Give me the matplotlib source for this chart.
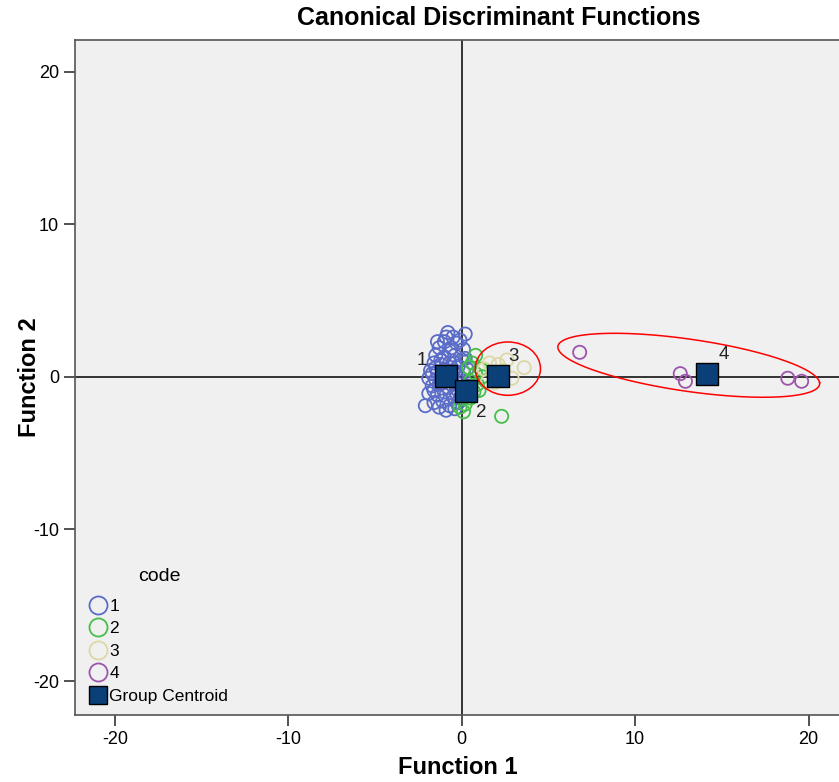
import matplotlib
matplotlib.use("Agg")
import matplotlib.pyplot as plt
from matplotlib.patches import Ellipse
from matplotlib.lines import Line2D
import numpy as np

plt.rcParams['font.family'] = ['Liberation Sans', 'DejaVu Sans']
plt.rcParams['axes.unicode_minus'] = False

# 各组的判别得分 (Function 1, Function 2)
g1_x = [-0.8, 0.2, -0.5, -1.0, -0.3, 0.1, -1.3, -0.7, -1.5, -1.0, -0.4, 0.0, -1.6, -1.2, -0.7, -0.2,
        -1.8, -1.4, -1.0, -0.5, 0.1, -1.9, -1.5, -1.1, -0.6, -0.2, -1.7, -1.3, -0.8, -0.3, -1.9, -1.4,
        -1.0, -0.5, -2.1, -1.6, -1.1, -0.7, -0.2, -1.3, -0.9, -0.4, -1.7, -1.2, -0.6, -0.9, -0.1, -1.4,
        -0.3, -1.6, -0.8, -0.4, -1.1, -0.6, -1.5, -0.2, 0.3, 0.2, -0.1, 0.3]
g1_y = [2.9, 2.8, 2.6, 2.3, 2.2, 1.8, 1.9, 1.7, 1.4, 1.3, 1.4, 1.1, 0.9, 0.8, 0.9, 0.7,
        0.4, 0.3, 0.5, 0.4, 0.3, -0.1, -0.2, 0.0, -0.1, -0.3, -0.6, -0.5, -0.7, -0.8, -1.1, -1.2,
        -1.0, -1.3, -1.9, -1.7, -1.6, -1.9, -1.7, -2.0, -2.2, -2.1, 0.2, 1.1, 1.9, 2.6, 2.4, 2.3,
        -1.1, -0.9, 0.2, 0.9, -0.4, -0.5, 0.6, 0.1, -0.6, 1.2, -1.4, 0.5]
g2_x = [0.8, 0.4, 0.8, 1.2, 0.5, 0.9, 0.3, 0.7, 0.1, 0.5, 1.0, 0.2, -0.1, 0.1, 1.4, 2.3, 0.6, 1.1]
g2_y = [1.4, 0.6, 0.2, 0.0, -0.3, -0.5, -0.8, -1.0, -1.3, -1.4, -0.9, -1.8, -2.0, -2.3, -0.3, -2.6, 0.9, 0.5]
g3_x = [1.6, 2.1, 2.6, 3.6, 1.8, 2.4, 1.5, 2.9, 1.3, 1.9]
g3_y = [0.9, 0.8, 1.1, 0.6, 0.3, 0.4, -0.3, -0.1, 0.5, -0.4]
g4_x = [6.8, 12.6, 12.9, 18.8, 19.6]
g4_y = [1.6, 0.2, -0.3, -0.1, -0.3]

# 组重心
cent_x = [-0.92, 0.23, 2.08, 14.16]
cent_y = [0.07, -0.92, 0.07, 0.20]
cent_lab = ['1', '2', '3', '4']
lab_off = [(-17, 11), (11, -16), (11, 14), (12, 14)]

groups = ['1', '2', '3', '4']
colors = ['#5a6cc8', '#45bf4a', '#dcd8a6', '#9d55ab']

fig = plt.figure(figsize=(8.39, 7.82), dpi=100)
ax = fig.add_axes([0.0894, 0.0857, 0.9126, 0.8632])
ax.set_facecolor('#f0f0f0')

xs = [g1_x, g2_x, g3_x, g4_x]
ys = [g1_y, g2_y, g3_y, g4_y]
for i in range(4):
    ax.scatter(xs[i], ys[i], s=90, facecolors='none', edgecolors=colors[i], linewidths=1.3, zorder=3)

ax.axhline(0, color='black', lw=1.1, zorder=2)
ax.axvline(0, color='black', lw=1.1, zorder=2)

ax.scatter(cent_x, cent_y, s=260, marker='s', facecolor='#0a3f78', edgecolor='black', linewidths=1.0, zorder=5)
for i in range(4):
    ax.annotate(cent_lab[i], (cent_x[i], cent_y[i]), xytext=lab_off[i], textcoords='offset points',
                ha='center', va='center', fontsize=13.5, color='#222222', zorder=6)

# 红色圈注
ax.add_patch(Ellipse((2.66, 0.53), 3.76, 3.5, fill=False, edgecolor='red', lw=1.1, zorder=4))
t = np.linspace(0, 2 * np.pi, 200)
ex = 13.09 + 7.545 * np.cos(t) - 0.21 * np.sin(t)
ey = 0.75 - 1.145 * np.cos(t) + 1.76 * np.sin(t)
ax.plot(ex, ey, color='red', lw=1.1, zorder=4)

ax.set_xlim(-22.3, 21.85)
ax.set_ylim(-22.2, 22.1)
ax.set_xticks([-20, -10, 0, 10, 20])
ax.set_yticks([-20, -10, 0, 10, 20])
ax.tick_params(direction='out', length=8, width=1.2, labelsize=13, colors='#333333', labelcolor='black')
for sp in ['left', 'bottom', 'top']:
    ax.spines[sp].set_color('#555555')
    ax.spines[sp].set_linewidth(1.2)
ax.spines['right'].set_visible(False)

ax.set_xlabel('Function 1', fontsize=17, fontweight='bold', labelpad=6)
fig.text(30 / 839, 1 - 377 / 782, 'Function 2', rotation=90, ha='center', va='center',
         fontsize=17, fontweight='bold')
fig.text(0.595, 0.977, 'Canonical Discriminant Functions', ha='center', va='center',
         fontsize=18, fontweight='bold')

handles = [Line2D([], [], ls='none', marker='o', markersize=13, markerfacecolor='none',
                  markeredgecolor=c, markeredgewidth=1.3) for c in colors]
handles.append(Line2D([], [], ls='none', marker='s', markersize=13, markerfacecolor='#0a3f78',
                      markeredgecolor='black'))
leg = ax.legend(handles, groups + ['Group Centroid'], title='code', loc='lower left',
                bbox_to_anchor=(0.005, 0.0), frameon=False, fontsize=12.5, title_fontsize=14,
                handlelength=0.9, handletextpad=0.2, labelspacing=0.42, borderaxespad=0.25)
leg._legend_box.sep = 10

fig.savefig('out.png', dpi=100)
